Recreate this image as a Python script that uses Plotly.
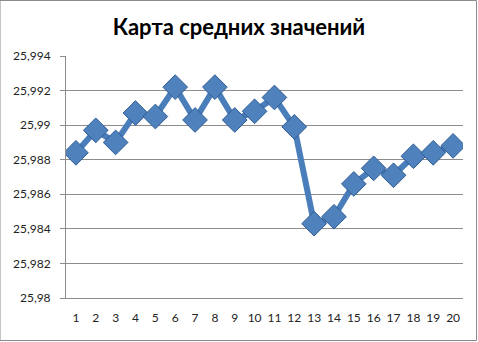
import plotly.graph_objects as go

categories = list(range(1, 21))
values = [25.9884, 25.9897, 25.9890, 25.9907, 25.9905, 25.9922, 25.9903, 25.9922,
          25.9903, 25.9908, 25.9916, 25.9899, 25.9843, 25.9847, 25.9866, 25.9875,
          25.9871, 25.9882, 25.9884, 25.9888]
y_ticks = [25.980, 25.982, 25.984, 25.986, 25.988, 25.990, 25.992, 25.994]
y_tick_labels = ["25,98", "25,982", "25,984", "25,986", "25,988", "25,99", "25,992", "25,994"]
title = "Карта средних значений"

fig = go.Figure()
fig.add_trace(go.Scatter(
    x=categories, y=values, mode="lines+markers",
    line=dict(color="#4A7EBB", width=6),
    marker=dict(symbol="diamond", size=19, color="#4F81BD",
                line=dict(color="#2F5C94", width=1)),
    hoverinfo="skip",
))

fig.update_layout(
    width=478, height=342,
    margin=dict(l=66, r=15, t=56, b=44),
    paper_bgcolor="white", plot_bgcolor="white",
    showlegend=False,
    title=dict(text="<b>" + title + "</b>", x=0.5, xanchor="center",
               y=1 - 27 / 342, yanchor="middle",
               font=dict(family="Lato", size=22, color="black")),
    font=dict(family="Lato", size=12, color="#222222"),
    shapes=[dict(type="rect", xref="paper", yref="paper",
                 x0=-66 / 397, x1=(476.5 - 66) / 397,
                 y0=-(44 - 1.5) / 242, y1=1 + (56 - 0.5) / 242,
                 line=dict(color="#8C8C8C", width=1))],
)
fig.update_xaxes(
    range=[0.5, 20.5], tickmode="array", tickvals=categories,
    showgrid=False, showline=True, linecolor="#8C8C8C", linewidth=1,
    ticks="outside", ticklen=9, tickcolor="rgba(0,0,0,0)",
    zeroline=False, tickfont=dict(size=12, color="#222222"),
)
fig.update_yaxes(
    range=[25.980, 25.994], tickmode="array", tickvals=y_ticks, ticktext=y_tick_labels,
    showgrid=True, gridcolor="#8C8C8C", gridwidth=1,
    showline=True, linecolor="#8C8C8C", linewidth=1,
    ticks="outside", ticklen=5, tickcolor="#8C8C8C",
    ticklabelstandoff=7,
    zeroline=False, tickfont=dict(size=12, color="#222222"),
)

fig.write_html("out.html")
